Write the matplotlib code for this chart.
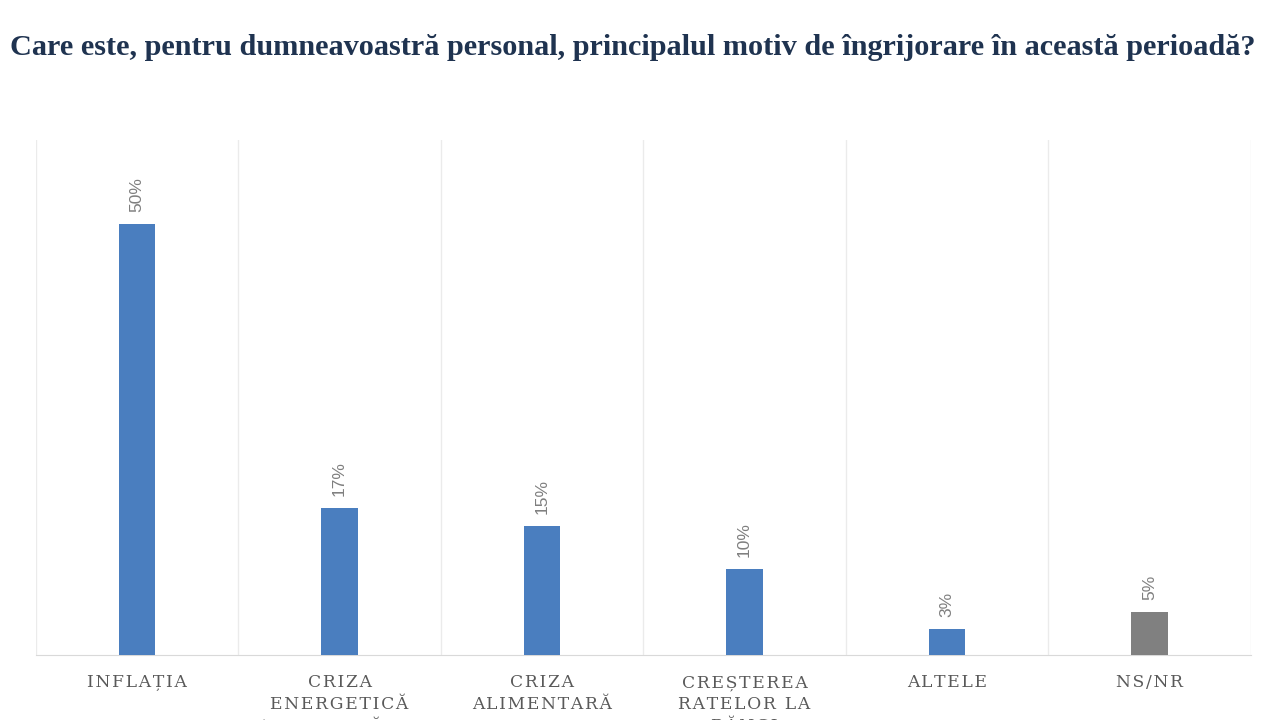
import matplotlib.pyplot as plt
import numpy as np

# ---------------------------------------------------------------------------
# Data
# ---------------------------------------------------------------------------
CATEGORIES = [
    "INFLAȚIA",
    "CRIZA\nENERGETICĂ\n(GENERATĂ DE",
    "CRIZA\nALIMENTARĂ",
    "CREȘTEREA\nRATELOR LA\nBĂNCI",
    "ALTELE",
    "NS/NR",
]
VALUES = [50, 17, 15, 10, 3, 5]
LABELS = ["50%", "17%", "15%", "10%", "3%", "5%"]
COLORS = ["#4a7ebf", "#4a7ebf", "#4a7ebf", "#4a7ebf", "#4a7ebf", "#808080"]

TITLE = ("Care este, pentru dumneavoastră personal, principalul motiv de "
         "îngrijorare în această perioadă?")


def spaced(label):
    """Imitate the letter spacing of the original axis labels."""
    return "\n".join("\u200a".join(line) for line in label.split("\n"))


# ---------------------------------------------------------------------------
# Plot
# ---------------------------------------------------------------------------
fig = plt.figure(figsize=(12.8, 7.2), dpi=100)
ax = fig.add_axes([0.028, 0.0903, 0.949, 0.715])

x = np.arange(len(CATEGORIES))
ax.bar(x, VALUES, width=0.18, color=COLORS, zorder=3)

for xi, v, lab in zip(x, VALUES, LABELS):
    ax.text(xi, v + 1.4, lab, rotation=90, ha="center", va="bottom",
            fontsize=12.5, color="#7f7f7f", family="Liberation Sans")

ax.set_xlim(-0.5, len(CATEGORIES) - 0.5)
ax.set_ylim(0, 59.7)
ax.set_yticks([])
ax.set_xticks(x)
ax.set_xticklabels([spaced(c) for c in CATEGORIES], fontsize=12.3,
                   color="#595959", family="DejaVu Serif", linespacing=1.35)
ax.tick_params(axis="x", length=0, pad=14)

ax.set_xticks(np.arange(-0.5, len(CATEGORIES)), minor=True)
ax.tick_params(axis="x", which="minor", length=0)
ax.grid(True, axis="x", which="minor", color="#ebebeb", linewidth=1, zorder=0)

for side in ["top", "right", "left"]:
    ax.spines[side].set_visible(False)
ax.spines["bottom"].set_color("#d9d9d9")

fig.text(0.008, 0.934, TITLE, fontsize=21.8, fontweight="bold",
         color="#1f3350", family="Liberation Serif", ha="left", va="center")

fig.savefig("out.png", dpi=100)
